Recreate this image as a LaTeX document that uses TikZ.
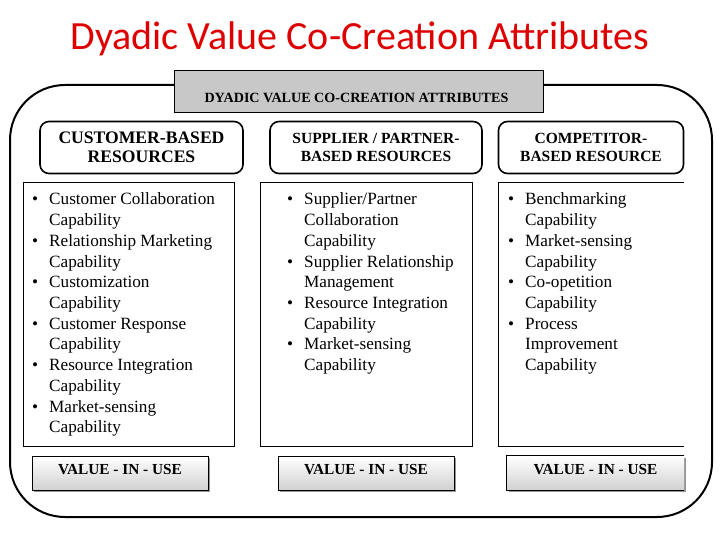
\documentclass[tikz,border=0pt]{standalone}
\usepackage{fontspec}
\setmainfont{Liberation Serif}
\newfontfamily\titlefont{Carlito}
\definecolor{titlered}{RGB}{222,0,0}
\definecolor{boxgray}{RGB}{200,200,200}
\definecolor{shadowgray}{RGB}{150,150,150}
\newcommand{\bul}{\llap{\textbullet\hspace{11pt}}}
\tikzset{
  frame/.style={draw, line width=2pt, rounded corners=55pt, inner sep=0pt},
  titlebox/.style={draw, fill=boxgray, line width=0.7pt, inner sep=0pt},
  headbox/.style={draw, line width=1.6pt, rounded corners=9pt, inner sep=0pt, align=center},
  listbox/.style={draw, line width=1pt, inner sep=0pt},
  listtext/.style={anchor=base west, inner sep=0pt, font=\fontsize{17.2}{20.7}\selectfont},
  valbox/.style={top color=white, bottom color=black!18, draw=black, line width=0.8pt, inner sep=0pt},
  valtext/.style={anchor=base, inner sep=0pt, font=\bfseries\fontsize{15.3}{18}\selectfont},
  shadowbox/.style={fill=shadowgray, inner sep=0pt}
}
\begin{document}
\begin{tikzpicture}[x=1pt,y=-1pt]
\useasboundingbox (0,0) rectangle (720,540);
% title
\node[anchor=base, inner sep=0pt, text=titlered, font=\titlefont\fontsize{40}{44}\selectfont] (title) at (360,50) {Dyadic Value Co-Creation Attributes};
% outer frame
\node[frame, minimum width=702pt, minimum height=432pt] (frame) at (361,301) {};
% gray title box
\node[titlebox, minimum width=369pt, minimum height=42pt] (tbox) at (358.5,91) {};
\node[anchor=base, inner sep=0pt, font=\bfseries\fontsize{14.1}{16}\selectfont] (ttext) at (356.5,103) {DYADIC VALUE CO-CREATION ATTRIBUTES};
% header boxes
\node[headbox, minimum width=203pt, minimum height=52pt, font=\bfseries\fontsize{17.6}{19}\selectfont] (h1) at (141.5,147.5) {CUSTOMER-BASED\\RESOURCES};
\node[headbox, minimum width=212pt, minimum height=52pt, font=\bfseries\fontsize{15.5}{18}\selectfont] (h2) at (376,147.5) {SUPPLIER / PARTNER-\\BASED RESOURCES};
\node[headbox, minimum width=185pt, minimum height=52pt, font=\bfseries\fontsize{15.5}{18}\selectfont] (h3) at (591,147.5) {COMPETITOR-\\BASED RESOURCE};
% list boxes
\node[listbox, minimum width=211pt, minimum height=263pt] (l1) at (129,314.5) {};
\node[listbox, minimum width=212pt, minimum height=263pt] (l2) at (366,314.5) {};
\node[inner sep=0pt, minimum width=185pt, minimum height=263pt] (l3) at (591.5,314.5) {};
\draw[line width=1pt] (l3.north east) -- (l3.north west) -- (l3.south west) -- (l3.south east);
% list texts
\node[listtext] (t1) at (49,205) {\begin{tabular}[t]{@{}l@{}}
\bul Customer Collaboration\\ Capability\\
\bul Relationship Marketing\\ Capability\\
\bul Customization\\ Capability\\
\bul Customer Response\\ Capability\\
\bul Resource Integration\\ Capability\\
\bul Market-sensing\\ Capability
\end{tabular}};
\node[listtext] (t2) at (304,205) {\begin{tabular}[t]{@{}l@{}}
\bul Supplier/Partner\\ Collaboration\\ Capability\\
\bul Supplier Relationship\\ Management\\
\bul Resource Integration\\ Capability\\
\bul Market-sensing\\ Capability
\end{tabular}};
\node[listtext] (t3) at (525,205) {\begin{tabular}[t]{@{}l@{}}
\bul Benchmarking\\ Capability\\
\bul Market-sensing\\ Capability\\
\bul Co-opetition\\ Capability\\
\bul Process\\ Improvement\\ Capability
\end{tabular}};
% value-in-use boxes
\node[shadowbox, minimum width=176pt, minimum height=34pt] (s1) at (122,475) {};
\node[shadowbox, minimum width=176pt, minimum height=34pt] (s2) at (368,475) {};
\node[shadowbox, minimum width=177pt, minimum height=34pt] (s3) at (597.5,475) {};
\node[valbox, minimum width=176pt, minimum height=34pt] (v1) at (120,473) {};
\node[valbox, minimum width=176pt, minimum height=34pt] (v2) at (366,473) {};
\node[inner sep=0pt, top color=white, bottom color=black!18, minimum width=177pt, minimum height=34pt] (v3) at (595.5,473) {};
\draw[line width=0.8pt] (v3.north east) -- (v3.north west) -- (v3.south west) -- (v3.south east);
\node[valtext] (vt1) at (120,474) {VALUE - IN - USE};
\node[valtext] (vt2) at (366,474) {VALUE - IN - USE};
\node[valtext] (vt3) at (595.5,474) {VALUE - IN - USE};
\end{tikzpicture}
\end{document}
